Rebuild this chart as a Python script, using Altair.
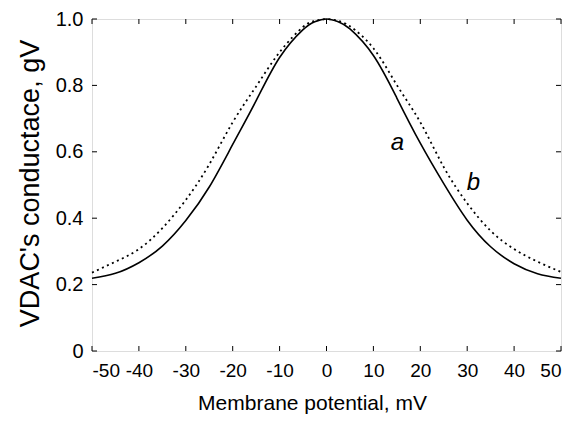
import altair as alt
import pandas as pd

# Membrane potential (mV) sample points
x_vals = [-50, -45, -40, -35, -30, -25, -20, -15, -10, -5, -2.5, 0, 2.5, 5, 10, 15, 20, 25, 30, 35, 40, 45, 50]
# curve a (solid)
g_a = [0.219, 0.234, 0.266, 0.316, 0.393, 0.494, 0.622, 0.754, 0.884, 0.968, 0.992, 1.0, 0.992, 0.970, 0.890, 0.762, 0.626, 0.504, 0.394, 0.314, 0.263, 0.233, 0.219]
# curve b (dotted)
g_b = [0.236, 0.269, 0.307, 0.370, 0.455, 0.562, 0.689, 0.797, 0.900, 0.976, 0.994, 1.0, 0.994, 0.978, 0.912, 0.801, 0.689, 0.554, 0.445, 0.362, 0.307, 0.269, 0.238]

label_text = ["a", "b"]
label_x = [15.1, 31.3]
label_y = [0.627, 0.506]

x_ticks = [-50, -40, -30, -20, -10, 0, 10, 20, 30, 40, 50]
y_ticks = [0, 0.2, 0.4, 0.6, 0.8, 1.0]

W, H = 469, 332
FONT = "Liberation Sans"

df_a = pd.DataFrame({"x": x_vals, "g": g_a})
df_b = pd.DataFrame({"x": x_vals, "g": g_b})
df_lab = pd.DataFrame({"t": label_text, "x": label_x, "g": label_y})
df_xt = pd.DataFrame({"v": x_ticks})
df_yt = pd.DataFrame({"v": y_ticks})

xs = alt.Scale(domain=[-50, 50], nice=False, zero=False)
ys = alt.Scale(domain=[0, 1], nice=False)

x_axis = alt.Axis(
    values=x_ticks, labelExpr="'' + datum.value", ticks=False, domain=False, grid=False,
    labelFontSize=19, labelFont=FONT, labelColor="black", labelPadding=10,
    title="Membrane potential, mV", titleFontSize=21, titleFont=FONT, titleFontWeight="normal",
    titleColor="black", titleX=220, titleY=58, titleBaseline="alphabetic", titleAlign="center",
)
y_axis = alt.Axis(
    values=y_ticks, labelExpr="datum.value == 0 ? '0' : format(datum.value, '.1f')",
    ticks=False, domain=False, grid=False,
    labelFontSize=20, labelFont=FONT, labelColor="black", labelPadding=9,
    title="VDAC's conductace, gV", titleFontSize=27, titleFont=FONT, titleFontWeight="normal",
    titleColor="black", titleX=-54, titleY=164, titleBaseline="alphabetic", titleAlign="center",
    titleAngle=270,
)

line_a = alt.Chart(df_a).mark_line(color="black", strokeWidth=1.6, interpolate="natural").encode(
    x=alt.X("x:Q", scale=xs, axis=x_axis),
    y=alt.Y("g:Q", scale=ys, axis=y_axis),
)
line_b = alt.Chart(df_b).mark_line(color="black", strokeWidth=1.8, strokeDash=[2, 3.5], interpolate="natural").encode(
    x=alt.X("x:Q", scale=xs),
    y=alt.Y("g:Q", scale=ys),
)
labels = alt.Chart(df_lab).mark_text(font=FONT, fontSize=24, fontStyle="italic", color="black").encode(
    x=alt.X("x:Q", scale=xs), y=alt.Y("g:Q", scale=ys), text="t:N"
)

TL = 5
tick_bottom = alt.Chart(df_xt).mark_rule(color="black", strokeWidth=1).encode(
    x=alt.X("v:Q", scale=xs), y=alt.value(H), y2=alt.value(H - TL))
tick_top = alt.Chart(df_xt).mark_rule(color="black", strokeWidth=1).encode(
    x=alt.X("v:Q", scale=xs), y=alt.value(0), y2=alt.value(TL))
tick_left = alt.Chart(df_yt).mark_rule(color="black", strokeWidth=1).encode(
    y=alt.Y("v:Q", scale=ys), x=alt.value(0), x2=alt.value(TL))
tick_right = alt.Chart(df_yt).mark_rule(color="black", strokeWidth=1).encode(
    y=alt.Y("v:Q", scale=ys), x=alt.value(W), x2=alt.value(W - TL))

chart = alt.layer(line_a, line_b, labels, tick_bottom, tick_top, tick_left, tick_right).properties(
    width=W, height=H,
    autosize=alt.AutoSizeParams(type="none"),
    padding={"left": 84, "top": 11, "right": 6, "bottom": 64},
).configure_view(stroke="black", strokeWidth=1).configure(background="white")

chart.save("out.html", embed_options={"renderer": "svg", "actions": False})
